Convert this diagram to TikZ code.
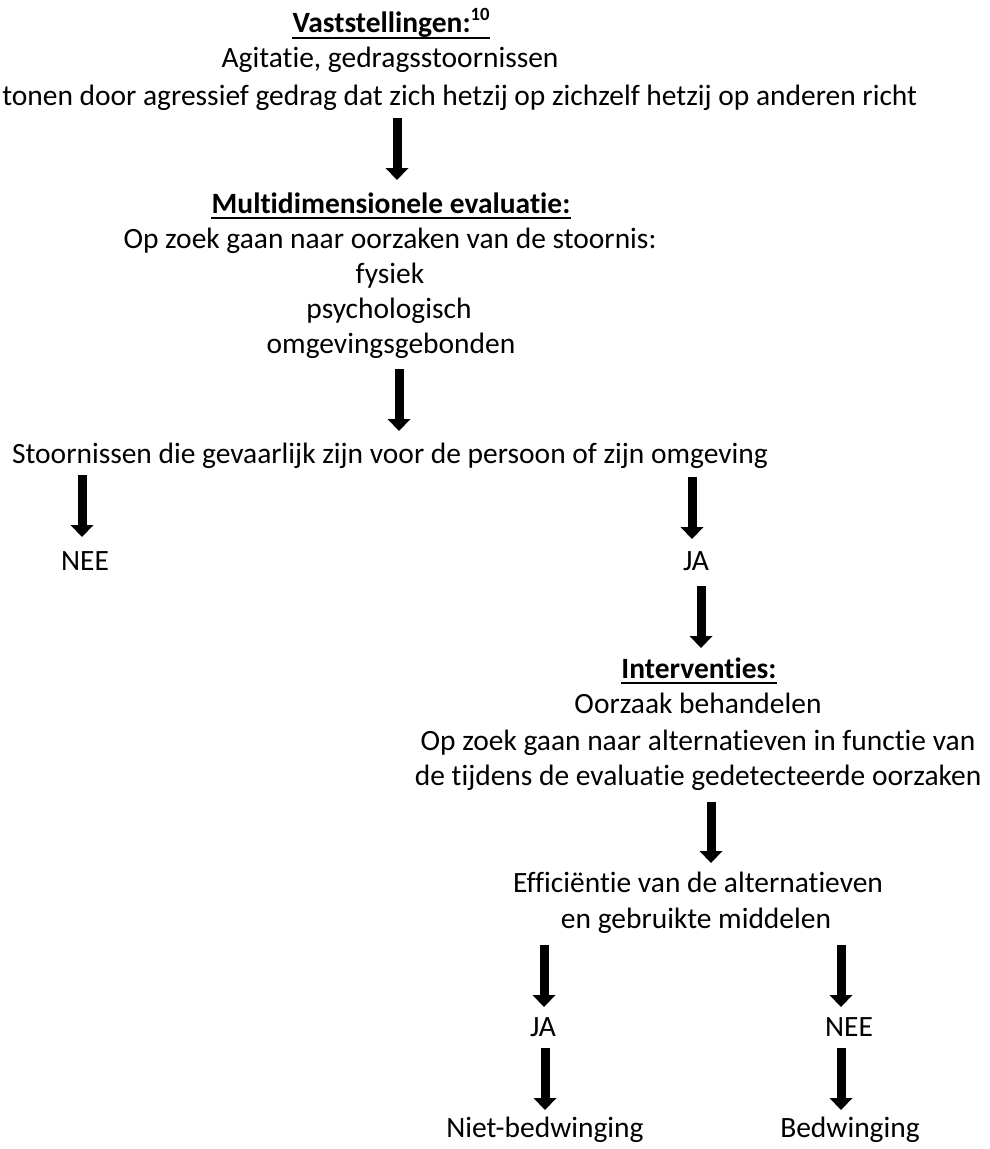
\documentclass[tikz,border=0pt]{standalone}
\usepackage{fontspec}
\setmainfont{Carlito}[Ligatures=NoCommon]
\usetikzlibrary{arrows.meta,calc}
\begin{document}
\begin{tikzpicture}[x=0.75pt,y=-0.75pt,
  txt/.style={anchor=base, inner sep=0pt, font=\fontsize{22.1pt}{26pt}\selectfont},
  btxt/.style={txt, font=\fontsize{22.1pt}{26pt}\selectfont\bfseries},
  fatarrow/.style={line width=6.75pt, -{Triangle[width=17.25pt,length=9pt,line width=0pt]}},
  uline/.style={line width=1.5pt}]
\useasboundingbox (0,0) rectangle (989,1149);
\node[btxt] (vast) at (391,33) {Vaststellingen:\raisebox{0.42em}{\fontsize{14pt}{14pt}\selectfont\bfseries 10}};
\node[txt] (agit) at (390,68) {Agitatie, gedragsstoornissen};
\node[txt, anchor=base west] (tonen) at (2,105) {tonen door agressief gedrag dat zich hetzij op zichzelf hetzij op anderen richt};
\node[btxt] (multi) at (391,213) {Multidimensionele evaluatie:};
\node[txt] (opzoek) at (390,248) {Op zoek gaan naar oorzaken van de stoornis:};
\node[txt] (fys) at (390,283) {fysiek};
\node[txt] (psy) at (389,318) {psychologisch};
\node[txt] (omg) at (391,353) {omgevingsgebonden};
\node[txt] (stoor) at (390,463) {Stoornissen die gevaarlijk zijn voor de persoon of zijn omgeving};
\node[txt] (nee1) at (85,570) {NEE};
\node[txt] (ja1) at (696,570) {JA};
\node[btxt] (interv) at (699,678) {Interventies:};
\node[txt] (oorz) at (698,713) {Oorzaak behandelen};
\node[txt] (alt) at (698,750) {Op zoek gaan naar alternatieven in functie van};
\node[txt] (tijd) at (698,785) {de tijdens de evaluatie gedetecteerde oorzaken};
\node[txt] (eff) at (698,892) {Efficiëntie van de alternatieven};
\node[txt] (gebr) at (696,928) {en gebruikte middelen};
\node[txt] (ja2) at (543,1036) {JA};
\node[txt] (nee2) at (849,1036) {NEE};
\node[txt] (niet) at (545,1137) {Niet-bedwinging};
\node[txt] (bedw) at (850,1137) {Bedwinging};
% underlines
\draw[uline] ($(vast.base west)+(0,5)$) -- ($(vast.base east)+(0,5)$);
\draw[uline] ($(multi.base west)+(0,5)$) -- ($(multi.base east)+(0,5)$);
\draw[uline] ($(interv.base west)+(0,5)$) -- ($(interv.base east)+(0,5)$);
% arrows
\draw[fatarrow] ($(multi.base |- tonen.base)+(6,13)$) -- ($(multi.base)+(6,-33)$);
\draw[fatarrow] ($(stoor.base |- omg.base)+(9,16)$) -- ($(stoor.base)+(9,-32)$);
\draw[fatarrow] ($(nee1.base |- stoor.base)+(-3,12)$) -- ($(nee1.base)+(-3,-33)$);
\draw[fatarrow] ($(ja1.base |- stoor.base)+(-4,14)$) -- ($(ja1.base)+(-4,-31)$);
\draw[fatarrow] ($(interv.base |- ja1.base)+(2,16)$) -- ($(interv.base)+(2,-30)$);
\draw[fatarrow] ($(eff.base |- tijd.base)+(13,17)$) -- ($(eff.base)+(13,-29)$);
\draw[fatarrow] ($(ja2.base |- gebr.base)+(1,17)$) -- ($(ja2.base)+(1,-29)$);
\draw[fatarrow] ($(nee2.base |- gebr.base)+(-8,17)$) -- ($(nee2.base)+(-8,-29)$);
\draw[fatarrow] ($(niet.base |- ja2.base)+(0,12)$) -- ($(niet.base)+(0,-27)$);
\draw[fatarrow] ($(bedw.base |- nee2.base)+(-9,12)$) -- ($(bedw.base)+(-9,-27)$);
\end{tikzpicture}
\end{document}
